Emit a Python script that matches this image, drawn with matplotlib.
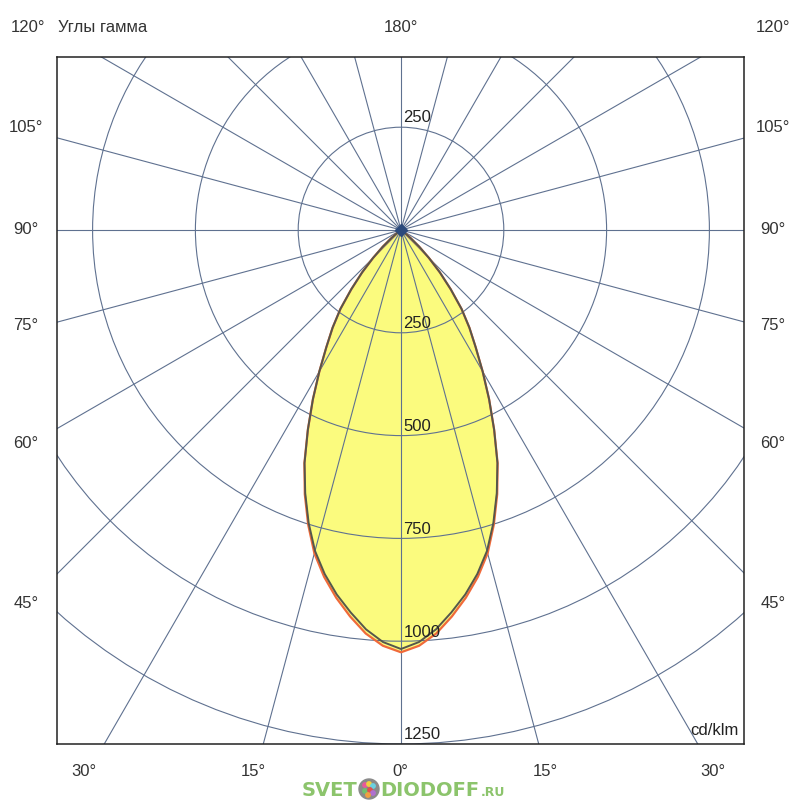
import numpy as np
import matplotlib
matplotlib.use('Agg')
import matplotlib.pyplot as plt
from matplotlib.patches import Circle

plt.rcParams['font.family'] = ['Liberation Sans', 'DejaVu Sans']

# gamma angle (deg) and luminous intensity, cd/klm
gamma = [0, 2.5, 5, 7.5, 10, 12.5, 15, 17.5, 20, 22.5, 25, 27.5, 30, 32.5,
         35, 37.5, 40, 42.5, 45, 47.5, 50, 52.5, 55, 60, 70, 80, 90]
c0_180 = [1019, 1003, 975, 938, 900, 857, 808, 747, 681, 613, 536, 464, 397, 338,
          290, 242, 188, 140, 96, 60, 30, 10, 0, 0, 0, 0, 0]
c90_270 = [1027, 1012, 985, 948, 908, 864, 814, 751, 684, 614, 536, 464, 397, 338,
           290, 242, 188, 140, 96, 60, 30, 10, 0, 0, 0, 0, 0]

rings = [250, 500, 750, 1000, 1250]
ray_step = 15
side_labels = ['120°', '105°', '90°', '75°', '60°', '45°']
bottom_labels = ['30°', '15°', '0°', '15°', '30°']
top_label = '180°'
title = 'Углы гамма'
units = 'cd/klm'

grid_c = '#5f7190'
text_c = '#333333'

# pixel layout of the reference
side_y = [27, 128, 230, 325, 443, 603]
bottom_x = [84, 253, 400, 545, 713]
cx, cy = 401, 230
s = 514 / 1250  # px per cd/klm


def lobe(vals):
    g = np.radians(gamma)
    v = np.array(vals, dtype=float)
    xr = v * np.sin(g)
    yr = -v * np.cos(g)
    x = np.concatenate([-xr[::-1], xr[1:]])
    y = np.concatenate([yr[::-1], yr[1:]])
    return x, y


def ftext(x, y, t, **kw):
    kw.setdefault('ha', 'center')
    fig.text(x / 800, 1 - y / 800, t, va='center', fontsize=12, color=text_c, **kw)


fig = plt.figure(figsize=(8, 8), dpi=100)
ax = fig.add_axes([57 / 800, 56 / 800, 687 / 800, 687 / 800])
ax.set_xlim((57 - cx) / s, (744 - cx) / s)
ax.set_ylim(-1250, (cy - 57) / s)
ax.set_xticks([])
ax.set_yticks([])
for sp in ax.spines.values():
    sp.set_linewidth(1.1)
    sp.set_color('#222222')
    sp.set_zorder(5)

x9, y9 = lobe(c90_270)
x0, y0 = lobe(c0_180)
ax.fill(x9, y9, color='#fbfb7e', zorder=1, lw=0)

for a in np.radians(np.arange(0, 360, ray_step)):
    ax.plot([0, 3000 * np.sin(a)], [0, -3000 * np.cos(a)], color=grid_c, lw=0.8, zorder=2)
for r in rings:
    ax.add_patch(Circle((0, 0), r, fill=False, ec=grid_c, lw=0.8, zorder=2))

ax.plot(x9, y9, color='#f06a3a', lw=1.6, zorder=3, solid_joinstyle='round')
ax.plot(x0, y0, color='#55574c', lw=1.4, zorder=4, solid_joinstyle='round')
ax.plot([0], [0], marker='D', ms=6, color='#2b4a7c', zorder=6)

ax.text(6, rings[0] + 12, str(rings[0]), fontsize=12, color='#222222', zorder=7)
for r in rings:
    ax.text(6, -r + 11, str(r), fontsize=12, color='#222222', zorder=7)

ax.text(820, -1250 + 22, units, fontsize=12, color='#222222', ha='right', zorder=7)

ftext(28, 27, side_labels[0])
ftext(58, 27, title, ha='left')
ftext(cx, 27, top_label)
ftext(773, 27, side_labels[0])
for lab, y in zip(side_labels[1:], side_y[1:]):
    ftext(26, y, lab)
    ftext(773, y, lab)
for lab, x in zip(bottom_labels, bottom_x):
    ftext(x, 772, lab)

# watermark
wm = '#8cc46c'
wfont = ['DejaVu Sans']
fig.text(302 / 800, 1 - 791 / 800, 'SVET', color=wm, fontsize=14, fontweight='bold',
         va='center', family=wfont)
fig.add_artist(Circle((369 / 800, 1 - 789 / 800), 10 / 800, color='#8a8a8a', transform=fig.transFigure))
for dx, dy, c in [(-4, -4, '#e85a9a'), (0, -5, '#f0d040'), (4, -3, '#6ad0e0'),
                  (-4, 2, '#70c070'), (1, 1, '#e05050'), (4, 4, '#b070d0'), (-1, 6, '#f0a040')]:
    fig.add_artist(Circle(((369 + dx) / 800, 1 - (789 + dy) / 800), 2.2 / 800, color=c,
                          transform=fig.transFigure))
fig.text(380 / 800, 1 - 791 / 800, 'DIODOFF', color=wm, fontsize=14, fontweight='bold',
         va='center', family=wfont)
fig.text(481 / 800, 1 - 792 / 800, '.RU', color=wm, fontsize=9, fontweight='bold',
         va='center', family=wfont)

fig.savefig('out.png', dpi=100)
